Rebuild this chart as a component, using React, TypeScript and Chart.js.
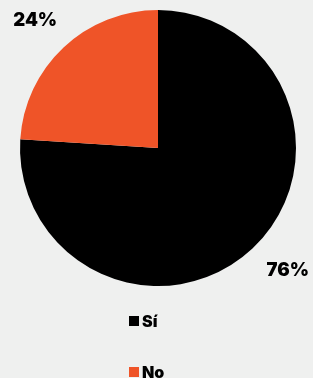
import React, { useEffect, useRef } from "react";
import { Chart, registerables } from "chart.js";

Chart.register(...registerables);

const categories = ["Sí", "No"];
const values = [76, 24];
const colors = ["#000000", "#ef5428"];

const labelPlugin = {
  id: "customLabels",
  afterDatasetsDraw(chart: any) {
    const ctx = chart.ctx;
    const meta = chart.getDatasetMeta(0);
    ctx.save();
    ctx.fillStyle = "#000";
    ctx.font = "900 18.5px Inter";
    ctx.textAlign = "center";
    ctx.textBaseline = "middle";
    meta.data.forEach((arc: any, i: number) => {
      const p = arc.getProps(["x", "y", "startAngle", "endAngle", "outerRadius"], true);
      const mid = (p.startAngle + p.endAngle) / 2;
      const d = p.outerRadius * 1.3;
      const c = Math.cos(mid);
      const s = Math.sin(mid);
      const nx = c > 0 ? 7 : 0;
      const ny = s > 0 ? -8 : 3;
      ctx.fillText(values[i] + "%", p.x + c * d + nx, p.y + s * d + ny);
    });
    // legend
    ctx.textAlign = "left";
    ctx.font = "900 16px Inter";
    categories.forEach((cat, i) => {
      const y = 321 + i * 51;
      ctx.fillStyle = colors[i];
      ctx.fillRect(129, y - 5, 10, 10);
      ctx.fillStyle = "#000";
      ctx.fillText(cat, 142, y + 1);
    });
    ctx.restore();
  },
};

export default function App() {
  const ref = useRef<HTMLCanvasElement>(null);
  useEffect(() => {
    document.body.style.margin = "0";
    document.body.style.background = "#eff0ef";
    const chart = new Chart(ref.current!, {
      type: "pie",
      data: {
        labels: categories,
        datasets: [{ data: values, backgroundColor: colors, borderWidth: 0 }],
      },
      options: {
        animation: false,
        responsive: false,
        layout: { padding: { left: 20, right: 17, top: 10, bottom: 92 } },
        plugins: { legend: { display: false }, tooltip: { enabled: false } },
      },
      plugins: [labelPlugin],
    });
    return () => chart.destroy();
  }, []);
  return (
    <div style={{ width: 313, height: 378, background: "#eff0ef" }}>
      <canvas ref={ref} width={313} height={378} style={{ display: "block" }} />
    </div>
  );
}
